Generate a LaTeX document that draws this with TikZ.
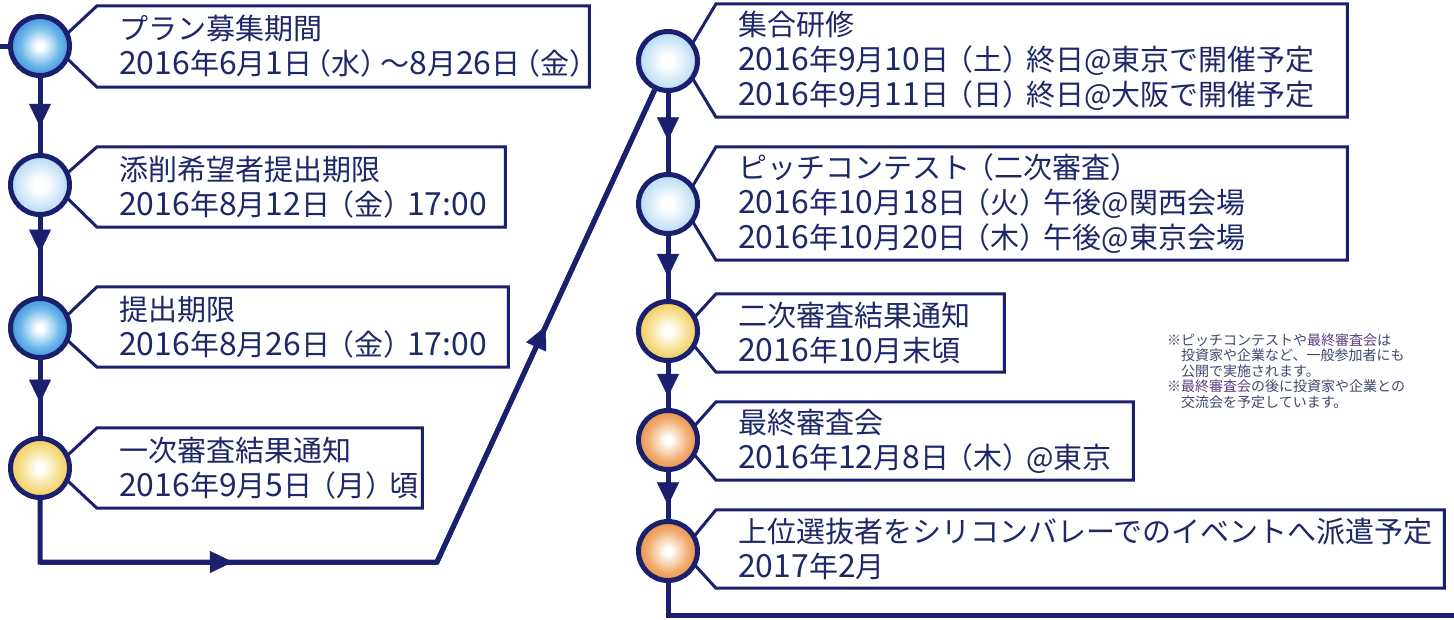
\documentclass[tikz,border=0pt]{standalone}
\usepackage{fontspec}
\setmainfont{Noto Sans CJK JP}
\newfontfamily\digf{Noto Sans CJK JP}[Scale=1.1]
\newcommand\Dg[1]{{\digf #1}}
\newcommand\Lp[1][5pt]{\kern-#1（}
\newcommand\Rp[1][5pt]{）\kern-#1}
\usetikzlibrary{arrows.meta,decorations.markings,backgrounds,calc}
\definecolor{navy}{HTML}{1A206E}
\definecolor{txt}{HTML}{1E2868}
\definecolor{note}{HTML}{3F4670}
\definecolor{notehl}{HTML}{5E3C80}
\definecolor{bluedeep}{HTML}{1C74C8}
\definecolor{bluemid}{HTML}{6BB6EA}
\definecolor{bluelt}{HTML}{95C7EC}
\definecolor{bluelm}{HTML}{CCE5F7}
\definecolor{yel}{HTML}{E9B935}
\definecolor{yelmid}{HTML}{F6DE8A}
\definecolor{org}{HTML}{DF7428}
\definecolor{orgmid}{HTML}{F2AE72}
\pgfdeclareradialshading{shB}{\pgfpointorigin}{color(0bp)=(white); color(3bp)=(white); color(17bp)=(bluemid); color(33bp)=(bluedeep); color(50bp)=(bluedeep)}
\pgfdeclareradialshading{shL}{\pgfpointorigin}{color(0bp)=(white); color(5bp)=(white); color(19bp)=(bluelm); color(33bp)=(bluelt); color(50bp)=(bluelt)}
\pgfdeclareradialshading{shY}{\pgfpointorigin}{color(0bp)=(white); color(3bp)=(white); color(17bp)=(yelmid); color(33bp)=(yel); color(50bp)=(yel)}
\pgfdeclareradialshading{shO}{\pgfpointorigin}{color(0bp)=(white); color(3bp)=(white); color(17bp)=(orgmid); color(33bp)=(org); color(50bp)=(org)}
\begin{document}
\begin{tikzpicture}[x=1pt,y=-1pt,
  ball/.style={circle, draw=navy, line width=5pt, minimum size=59pt, inner sep=0pt, shade, shading=#1},
  conn/.style={draw=navy, line width=5pt},
  tbox/.style={anchor=west, inner xsep=22pt, inner ysep=0pt, align=left, text=txt, font=\fontsize{29}{35}\selectfont},
  frame/.style={draw=navy, line width=3pt, fill=white, line join=miter},
  arrowat/.style={postaction={decorate}, decoration={markings, mark=at position #1 with {\arrow{Triangle[width=22pt,length=23pt,line width=0.5pt]}}}},
  notes/.style={align=left, inner sep=0pt, text=note, font=\fontsize{14}{15.5}\selectfont}
]
\useasboundingbox (0,0) rectangle (1454,619);
% circles
\node[ball=shB] (c1) at (40,46) {};
\node[ball=shL] (c2) at (40,185) {};
\node[ball=shB] (c3) at (40,328) {};
\node[ball=shY] (c4) at (40,468) {};
\node[ball=shL] (c5) at (668,61) {};
\node[ball=shL] (c6) at (668,204) {};
\node[ball=shY] (c7) at (668,331) {};
\node[ball=shO] (c8) at (668,440) {};
\node[ball=shO] (c9) at (668,551) {};
% text boxes
\node[tbox, minimum height=81pt, text width=448pt] (t1) at (97,46.5) {プラン募集期間\\\Dg{2016}年\Dg{6}月\Dg{1}日\Lp[9.5pt]水\Rp[9.5pt]～\Dg{8}月\Dg{26}日\Lp[9.5pt]金\Rp[9.5pt]};
\node[tbox, minimum height=80pt, text width=364pt] (t2) at (97,187) {添削希望者提出期限\\\Dg{2016}年\Dg{8}月\Dg{12}日\Lp 金\Rp\Dg{17:00}};
\node[tbox, minimum height=80pt, text width=367pt] (t3) at (97,327) {提出期限\\\Dg{2016}年\Dg{8}月\Dg{26}日\Lp 金\Rp\Dg{17:00}};
\node[tbox, minimum height=80pt, text width=281pt] (t4) at (97,468) {一次審査結果通知\\\Dg{2016}年\Dg{9}月\Dg{5}日\Lp 月\Rp 頃};
\node[tbox, minimum height=113pt, text width=587pt] (t5) at (716,60.5) {集合研修\\\Dg{2016}年\Dg{9}月\Dg{10}日\Lp 土\Rp 終日@東京で開催予定\\\Dg{2016}年\Dg{9}月\Dg{11}日\Lp 日\Rp 終日@大阪で開催予定};
\node[tbox, minimum height=113pt, text width=587pt] (t6) at (716,203.5) {ピッチコンテスト\Lp 二次審査\Rp\\\Dg{2016}年\Dg{10}月\Dg{18}日\Lp 火\Rp 午後@関西会場\\\Dg{2016}年\Dg{10}月\Dg{20}日\Lp 木\Rp 午後@東京会場};
\node[tbox, minimum height=78pt, text width=244pt] (t7) at (716,333) {二次審査結果通知\\\Dg{2016}年\Dg{10}月末頃};
\node[tbox, minimum height=78pt, text width=373pt] (t8) at (716,441) {最終審査会\\\Dg{2016}年\Dg{12}月\Dg{8}日\Lp 木\Rp @東京};
\node[tbox, minimum height=78pt, text width=684pt] (t9) at (716,549) {上位選抜者をシリコンバレーでのイベントへ派遣予定\\\Dg{2017}年\Dg{2}月};
% notes
\node[notes, anchor=west] (nt) at (1167,371) {※ピッチコンテストや{\color{notehl}最終審査会}は\\\hspace*{1em}投資家や企業など、一般参加者にも\\\hspace*{1em}公開で実施されます。\\※{\color{notehl}最終審査会}の後に投資家や企業との\\\hspace*{1em}交流会を予定しています。};
% free ends and corners
\coordinate (in) at (0,46);
\coordinate (b1) at (40,562);
\coordinate (b2) at (437,562);
\coordinate (out) at (1454,615);
\begin{scope}[on background layer]
\fill[white] (0,0) rectangle (1454,619);
\draw[conn] (in) -- (c1);
\draw[conn, arrowat=0.65] (c1) -- (c2);
\draw[conn, arrowat=0.45] (c2) -- (c3);
\draw[conn, arrowat=0.56] (c3) -- (c4);
\draw[conn, line join=miter] (c4) -- (b1) -- (b2) -- (c5);
\draw[conn, arrowat=0.486] (b1) -- (b2);
\draw[conn, arrowat=0.5] (b2) -- (c5);
\draw[conn, arrowat=0.6] (c5) -- (c6);
\draw[conn, arrowat=0.65] (c6) -- (c7);
\draw[conn, arrowat=0.75] (c7) -- (c8);
\draw[conn, arrowat=0.71] (c8) -- (c9);
\draw[conn, line join=miter] (c9) |- (out);
\foreach \i in {1,...,9} {
  \draw[frame] (t\i.north west) -- (t\i.north east) -- (t\i.south east) -- (t\i.south west) -- ($(c\i)+(14,0)$) -- cycle;
}
\end{scope}
\end{tikzpicture}
\end{document}
